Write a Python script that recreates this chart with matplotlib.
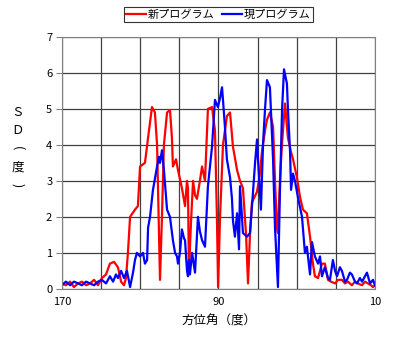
import matplotlib
matplotlib.use("Agg")
import matplotlib.pyplot as plt

plt.rcParams['font.family'] = ['Noto Sans CJK JP', 'DejaVu Sans']

# 新プログラム (red)
new_deg = [170, 168.0, 165.9, 163.9, 161.8, 159.8, 157.7, 155.7, 153.6, 151.6,
           149.6, 147.5, 145.5, 143.4, 141.4, 139.8, 138.3, 137.3, 136.3, 135.2,
           132.7, 131.2, 130.1, 127.6, 126.0, 124.0, 122.5, 121.4, 120.4, 119.9,
           118.9, 117.9, 116.3, 114.8, 113.8, 113.3, 111.7, 110.7, 108.7, 107.1,
           106.1, 105.6, 105.1, 104.1, 103.0, 102.0, 101.0, 99.5, 98.4, 96.9,
           95.4, 93.3, 91.8, 90.8, 90.2, 89.2, 87.7, 85.7, 84.1, 82.6,
           80.5, 79.0, 77.5, 75.9, 74.9, 73.9, 72.9, 70.3, 68.8, 67.8,
           66.2, 65.2, 63.7, 62.1, 61.1, 60.1, 59.6, 58.6, 57.5, 56.0,
           54.5, 52.9, 51.9, 49.9, 48.3, 46.8, 44.8, 43.2, 41.7, 40.7,
           39.1, 37.1, 35.6, 34.0, 32.5, 30.4, 28.9, 26.9, 25.3, 23.8,
           21.8, 20.2, 18.7, 16.6, 15.1, 13.6, 12.0, 11.0, 10.0]
new_sd = [0.15, 0.1, 0.2, 0.05, 0.15, 0.2, 0.1, 0.15, 0.25, 0.1,
          0.3, 0.4, 0.7, 0.75, 0.6, 0.2, 0.1, 0.3, 1.0, 2.0,
          2.2, 2.3, 3.4, 3.5, 4.2, 5.05, 4.9, 4.0, 1.5, 0.25,
          2.0, 4.0, 4.9, 4.97, 4.2, 3.4, 3.6, 3.3, 2.8, 2.3,
          3.0, 2.8, 0.45, 1.8, 3.0, 2.6, 2.5, 3.0, 3.4, 3.0,
          5.0, 5.05, 4.4, 2.0, 0.05, 2.0, 4.0, 4.8, 4.9, 3.95,
          3.3, 3.0, 2.8, 1.5, 0.15, 1.5, 2.4, 2.7, 3.2, 3.8,
          4.4, 4.7, 4.9, 4.5, 3.0, 1.7, 1.55, 3.0, 4.05, 5.15,
          4.2, 3.8, 3.6, 3.1, 2.55, 2.2, 2.1, 1.45, 0.7, 0.35,
          0.3, 0.7, 0.7, 0.25, 0.2, 0.15, 0.25, 0.25, 0.15, 0.2,
          0.1, 0.2, 0.15, 0.1, 0.2, 0.15, 0.1, 0.05, 0.1]

# 現プログラム (blue)
cur_deg = [170, 168.0, 165.9, 163.9, 161.8, 159.8, 157.7, 155.7, 153.6, 151.6,
           149.6, 147.5, 145.5, 143.9, 142.4, 141.4, 139.8, 138.3, 136.8, 135.2,
           133.7, 132.7, 131.7, 130.1, 128.6, 127.6, 126.5, 126.0, 125.0, 123.5,
           121.4, 120.4, 119.9, 118.9, 117.9, 116.3, 114.8, 113.3, 112.2, 111.2,
           110.7, 109.7, 108.7, 107.6, 107.1, 106.1, 105.6, 105.1, 104.6, 103.5,
           102.0, 100.5, 99.5, 98.4, 96.9, 95.4, 93.3, 91.8, 90.3, 89.2,
           88.2, 87.7, 86.7, 85.7, 84.1, 83.1, 82.6, 81.6, 80.5, 79.5,
           79.0, 78.0, 77.5, 75.4, 73.9, 72.4, 71.3, 70.3, 69.8, 68.3,
           67.2, 66.2, 65.2, 63.7, 62.1, 61.1, 59.6, 58.6, 57.5, 56.5,
           55.0, 54.5, 53.4, 52.9, 51.9, 50.9, 49.4, 47.3, 45.8, 44.8,
           43.2, 42.2, 40.7, 39.1, 38.1, 37.1, 35.6, 34.0, 33.0, 31.5,
           30.4, 29.4, 27.9, 26.9, 25.3, 24.3, 22.8, 21.8, 20.2, 19.2,
           17.7, 16.6, 15.1, 14.1, 12.5, 11.0, 10.0]
cur_sd = [0.1, 0.2, 0.1, 0.2, 0.15, 0.1, 0.2, 0.15, 0.1, 0.2,
          0.25, 0.15, 0.35, 0.2, 0.4, 0.3, 0.5, 0.3, 0.5, 0.05,
          0.45, 0.8, 1.0, 0.9, 1.0, 0.7, 0.8, 1.7, 2.0, 2.75,
          3.4, 3.67, 3.5, 3.85, 3.3, 2.2, 2.0, 1.35, 1.0, 0.9,
          0.7, 1.0, 1.65, 1.4, 1.35, 0.5, 0.35, 0.8, 0.4, 1.0,
          0.45, 2.0, 1.6, 1.35, 1.17, 2.85, 3.95, 5.25, 5.05, 5.3,
          5.6, 5.25, 4.5, 3.6, 3.1, 2.5, 1.9, 1.45, 2.1, 1.1,
          2.85, 2.0, 1.55, 1.45, 1.55, 2.65, 3.5, 4.15, 3.6, 2.2,
          4.05, 5.0, 5.8, 5.6, 3.6, 1.7, 0.05, 2.65, 4.97, 6.1,
          5.7, 5.0, 3.8, 2.75, 3.2, 3.0, 2.55, 2.0, 1.0, 1.17,
          0.4, 1.3, 0.9, 0.7, 0.9, 0.35, 0.6, 0.3, 0.25, 0.8,
          0.5, 0.35, 0.6, 0.5, 0.2, 0.25, 0.45, 0.4, 0.2, 0.15,
          0.3, 0.2, 0.35, 0.45, 0.15, 0.25, 0.1]

fig = plt.figure(figsize=(4.08, 3.48), dpi=100)
ax = fig.add_axes([0.152, 0.170, 0.767, 0.724])

ax.plot(new_deg, new_sd, color='#ff0000', lw=1.6, label='新プログラム')
ax.plot(cur_deg, cur_sd, color='#0000ff', lw=1.6, label='現プログラム')

ax.set_xlim(170, 10)
ax.set_ylim(0, 7)
ax.set_xticks([170, 90, 10])
ax.set_xticks(range(10, 171, 20), minor=True)
ax.set_yticks(range(0, 8))
ax.grid(True, which='both', color='#404040', lw=0.9)
ax.set_axisbelow(True)
ax.tick_params(axis='x', which='both', length=0, labelsize=8, pad=6)
ax.tick_params(axis='y', length=4, width=0.8, color='#808080', labelsize=8, pad=3)
for s in ax.spines.values():
    s.set_color('#808080')

ax.set_xlabel('方位角（度）', fontsize=9, labelpad=5)

# vertical y label: Ｓ Ｄ ( 度 )  -- brackets turned to vertical form
ylab = [('Ｓ', 0.678, 0), ('Ｄ', 0.626, 0), ('(', 0.574, -90),
        ('度', 0.520, 0), (')', 0.468, -90)]
for ch, yy, rot in ylab:
    fig.text(0.044, yy, ch, fontsize=9, ha='center', va='center', rotation=rot,
             rotation_mode='anchor')

leg = fig.legend(loc='upper center', bbox_to_anchor=(0.535, 0.995), ncol=2,
                 fontsize=8, frameon=True, fancybox=False, handlelength=1.8,
                 handletextpad=0.2, columnspacing=0.6, borderpad=0.2,
                 edgecolor='black')
leg.get_frame().set_linewidth(0.8)

fig.savefig('out.png', dpi=100)
